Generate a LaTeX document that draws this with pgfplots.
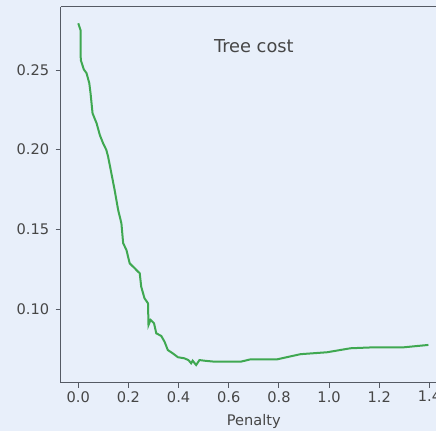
\documentclass[border=0pt]{standalone}
\usepackage{pgfplots}
\pgfplotsset{compat=1.18}
\usepackage{fontspec}
\setmainfont{DejaVu Sans}
\definecolor{bgc}{RGB}{232,239,250}
\definecolor{linec}{RGB}{63,168,81}
\definecolor{txtc}{RGB}{70,70,70}
\definecolor{spinec}{RGB}{85,90,100}
\begin{document}
\begin{tikzpicture}
\useasboundingbox (-60.7pt,-48.3pt) rectangle (375.3pt,382.7pt);
\clip (-60.7pt,-48.3pt) rectangle (375.3pt,382.7pt);
\fill[bgc] (-60.7pt,-48.3pt) rectangle (375.3pt,382.7pt);
\begin{axis}[
  at={(0pt,0pt)}, anchor=south west,
  scale only axis, width=386.3pt, height=376pt,
  xmin=-0.07, xmax=1.47, ymin=0.0538, ymax=0.2897,
  axis x line*=box, axis y line*=left,
  axis line style={spinec, line width=1pt},
  xtick={0,0.2,0.4,0.6,0.8,1.0,1.2,1.4},
  ytick={0.10,0.15,0.20,0.25},
  tick align=outside, major tick length=5pt,
  xtick pos=bottom, ytick pos=left,
  tick style={spinec, line width=0.9pt},
  /pgf/number format/assume math mode=true,
  xticklabel style={/pgf/number format/.cd, fixed, fixed zerofill, precision=1},
  yticklabel style={xshift=-3pt, /pgf/number format/.cd, fixed, fixed zerofill, precision=2},
  ticklabel style={font=\fontsize{14.6}{16}\selectfont, text=txtc},
  xlabel={Penalty}, xlabel style={font=\fontsize{14.6}{16}\selectfont, text=txtc, yshift=-5pt},
]
\addplot[linec, line width=2pt] coordinates {
(0.000,0.2793) (0.009,0.2750) (0.010,0.2563) (0.022,0.2504) (0.033,0.2480)
(0.044,0.2417) (0.049,0.2354) (0.057,0.2228) (0.073,0.2166) (0.086,0.2092)
(0.099,0.2040) (0.112,0.1998) (0.119,0.1956) (0.132,0.1852) (0.145,0.1747)
(0.159,0.1622) (0.172,0.1538) (0.179,0.1413) (0.192,0.1371) (0.205,0.1287)
(0.225,0.1256) (0.238,0.1235) (0.245,0.1225) (0.251,0.1140) (0.264,0.1068)
(0.278,0.1036) (0.280,0.0900) (0.288,0.0932) (0.302,0.0911) (0.311,0.0848)
(0.331,0.0831) (0.344,0.0795) (0.357,0.0743) (0.377,0.0722) (0.397,0.0698)
(0.423,0.0691) (0.439,0.0680) (0.450,0.0660) (0.456,0.0676) (0.470,0.0649)
(0.483,0.0680) (0.503,0.0676) (0.542,0.0670) (0.609,0.0670) (0.648,0.0670)
(0.688,0.0685) (0.794,0.0685) (0.886,0.0717) (0.992,0.0729) (1.085,0.0754)
(1.178,0.0760) (1.297,0.0760) (1.396,0.0775)
};
\node[font=\fontsize{17.8}{20}\selectfont, text=txtc] at (rel axis cs:0.5,0.894) {Tree cost};
\end{axis}
\end{tikzpicture}
\end{document}
